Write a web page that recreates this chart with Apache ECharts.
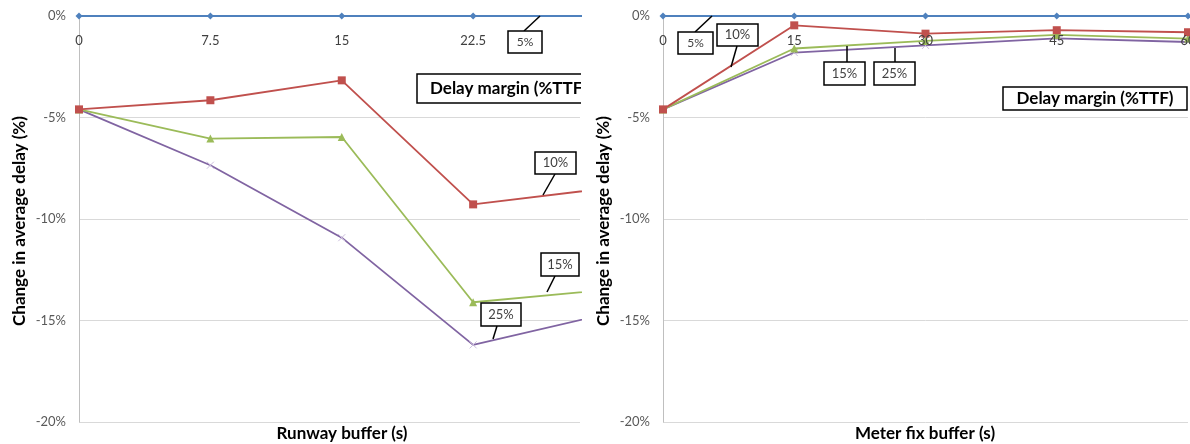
<!DOCTYPE html>
<html>
<head>
<meta charset="utf-8">
<script src="https://cdn.jsdelivr.net/npm/echarts@6/dist/echarts.min.js"></script>
<style>
html,body{margin:0;padding:0;background:#fff;}
#chart{width:1190px;height:444px;}
</style>
</head>
<body>
<div id="chart"></div>
<script>
// ---- data ----
const runwayBuffer = [0, 7.5, 15, 22.5, 30];
const runway5  = [0, 0, 0, 0, 0];
const runway10 = [-4.6, -4.15, -3.17, -9.28, -8.5];
const runway15 = [-4.6, -6.04, -5.96, -14.1, -13.5];
const runway25 = [-4.6, -7.35, -10.92, -16.2, -14.7];

const meterBuffer = [0, 15, 30, 45, 60];
const meter5  = [0, 0, 0, 0, 0];
const meter10 = [-4.6, -0.46, -0.87, -0.7, -0.8];
const meter15 = [-4.6, -1.6, -1.23, -0.93, -1.11];
const meter25 = [-4.6, -1.8, -1.45, -1.1, -1.28];

const yTicks = [0, -5, -10, -15, -20];
const seriesNames = ['5%', '10%', '15%', '25%'];
const legendTitle = 'Delay margin (%TTF)';
const yTitle = 'Change in average delay (%)';
const xTitles = ['Runway buffer (s)', 'Meter fix buffer (s)'];

// ---- styles ----
const FONT = 'Lato';
const colors = ['#4F81BD', '#C0504D', '#9BBB59', '#8064A2'];
const symbols = ['diamond', 'rect', 'triangle', 'path://M0,0L10,10M10,0L0,10'];
const symbolSizes = [7, 8, 8, 7];

function pairs(xs, ys) { return xs.map((x, i) => [x, ys[i]]); }

function makeSeries(gi, xs, ysList) {
  return ysList.map((ys, k) => ({
    name: seriesNames[k],
    type: 'line',
    xAxisIndex: gi, yAxisIndex: gi,
    data: pairs(xs, ys),
    symbol: symbols[k],
    symbolSize: symbolSizes[k],
    showAllSymbol: true,
    clip: true,
    z: 5 - k,
    lineStyle: { color: colors[k], width: 1.8 },
    itemStyle: k === 3
      ? { color: 'rgba(0,0,0,0)', borderColor: '#CBBEDD', borderWidth: 1 }
      : { color: colors[k], borderWidth: 0 },
    emphasis: { disabled: true }
  }));
}

function xAxisCfg(gi, max, interval, showMax) {
  return {
    gridIndex: gi, type: 'value', position: 'top', z: 10,
    min: 0, max: max, interval: interval,
    axisLine: { show: false },
    axisTick: { show: false },
    splitLine: { show: false },
    axisLabel: {
      inside: true, margin: 18, color: '#404040', fontFamily: FONT, fontSize: 13,
      showMaxLabel: showMax, hideOverlap: false
    }
  };
}
function yAxisCfg(gi) {
  return {
    gridIndex: gi, type: 'value', min: yTicks[yTicks.length - 1], max: yTicks[0], interval: 5,
    axisLine: { show: true, lineStyle: { color: '#BFBFBF' } },
    axisTick: { show: false },
    splitLine: { show: true, lineStyle: { color: '#D9D9D9', width: 1 } },
    axisLabel: { margin: 13, color: '#595959', fontFamily: FONT, fontSize: 13, formatter: v => v + '%' }
  };
}

// annotation boxes (layout)
function box(x, y, w, h, text, leader, opts) {
  opts = opts || {};
  const els = [];
  if (leader) {
    els.push({ type: 'line', z: 100, shape: { x1: leader[0], y1: leader[1], x2: leader[2], y2: leader[3] },
      style: { stroke: '#000', lineWidth: 1.5 } });
  }
  els.push({ type: 'rect', z: 101, shape: { x: x, y: y, width: w, height: h },
    style: { fill: '#fff', stroke: '#000', lineWidth: 1.5 } });
  els.push({ type: 'text', z: 102, x: opts.textX != null ? opts.textX : x + w / 2, y: y + h / 2,
    style: { text: text, fill: opts.color || '#404040', font: (opts.bold ? 'bold ' : '') + (opts.size || 13) + 'px ' + FONT,
      align: opts.align || 'center', verticalAlign: 'middle' } });
  return els;
}

const graphics = [].concat(
  // left panel labels
  box(508, 31, 34, 22, '5%', [524, 31, 540, 16], { size: 12 }),
  box(535, 152, 41, 22, '10%', [555, 174, 543, 195]),
  box(541, 253, 38, 23, '15%', [555, 276, 547, 292]),
  box(481, 303, 40, 23, '25%', [497, 326, 493, 339]),
  box(417, 74, 200, 29, legendTitle, null, { bold: true, size: 17, color: '#000', align: 'left', textX: 430 }),
  [{ type: 'rect', z: 103, shape: { x: 581, y: 70, width: 40, height: 38 }, style: { fill: '#fff' } }],
  // right panel labels
  box(678, 32, 35, 22, '5%', [695, 32, 712, 16], { size: 12 }),
  box(717, 24, 41, 22, '10%', [737, 46, 731, 67]),
  box(824, 62, 41, 23, '15%', [847, 62, 847, 46]),
  box(874, 62, 41, 23, '25%', [895, 62, 895, 48]),
  box(1003, 87, 184, 23, legendTitle, null, { bold: true, size: 17, color: '#000' }),
  // axis titles
  [
    { type: 'text', z: 100, x: 20, y: 221, rotation: Math.PI / 2,
      style: { text: yTitle, fill: '#000', font: 'bold 17px ' + FONT, align: 'center', verticalAlign: 'middle' } },
    { type: 'text', z: 100, x: 604, y: 221, rotation: Math.PI / 2,
      style: { text: yTitle, fill: '#000', font: 'bold 17px ' + FONT, align: 'center', verticalAlign: 'middle' } },
    { type: 'text', z: 100, x: 342, y: 434,
      style: { text: xTitles[0], fill: '#000', font: 'bold 17px ' + FONT, align: 'center', verticalAlign: 'middle' } },
    { type: 'text', z: 100, x: 925, y: 434,
      style: { text: xTitles[1], fill: '#000', font: 'bold 17px ' + FONT, align: 'center', verticalAlign: 'middle' } }
  ]
);

const chart = echarts.init(document.getElementById('chart'), null, { renderer: 'canvas' });
chart.setOption({
  animation: false,
  backgroundColor: '#fff',
  grid: [
    { left: 79, top: 16, width: 501, height: 406, outerBoundsMode: 'none', containLabel: false },
    { left: 663, top: 16, width: 525, height: 406, outerBoundsMode: 'none', containLabel: false }
  ],
  xAxis: [xAxisCfg(0, 28.6, 7.5, false), xAxisCfg(1, 60, 15, true)],
  yAxis: [yAxisCfg(0), yAxisCfg(1)],
  series: [].concat(
    makeSeries(0, runwayBuffer, [runway5, runway10, runway15, runway25]),
    makeSeries(1, meterBuffer, [meter5, meter10, meter15, meter25])
  ),
  graphic: graphics
});
</script>
</body>
</html>
